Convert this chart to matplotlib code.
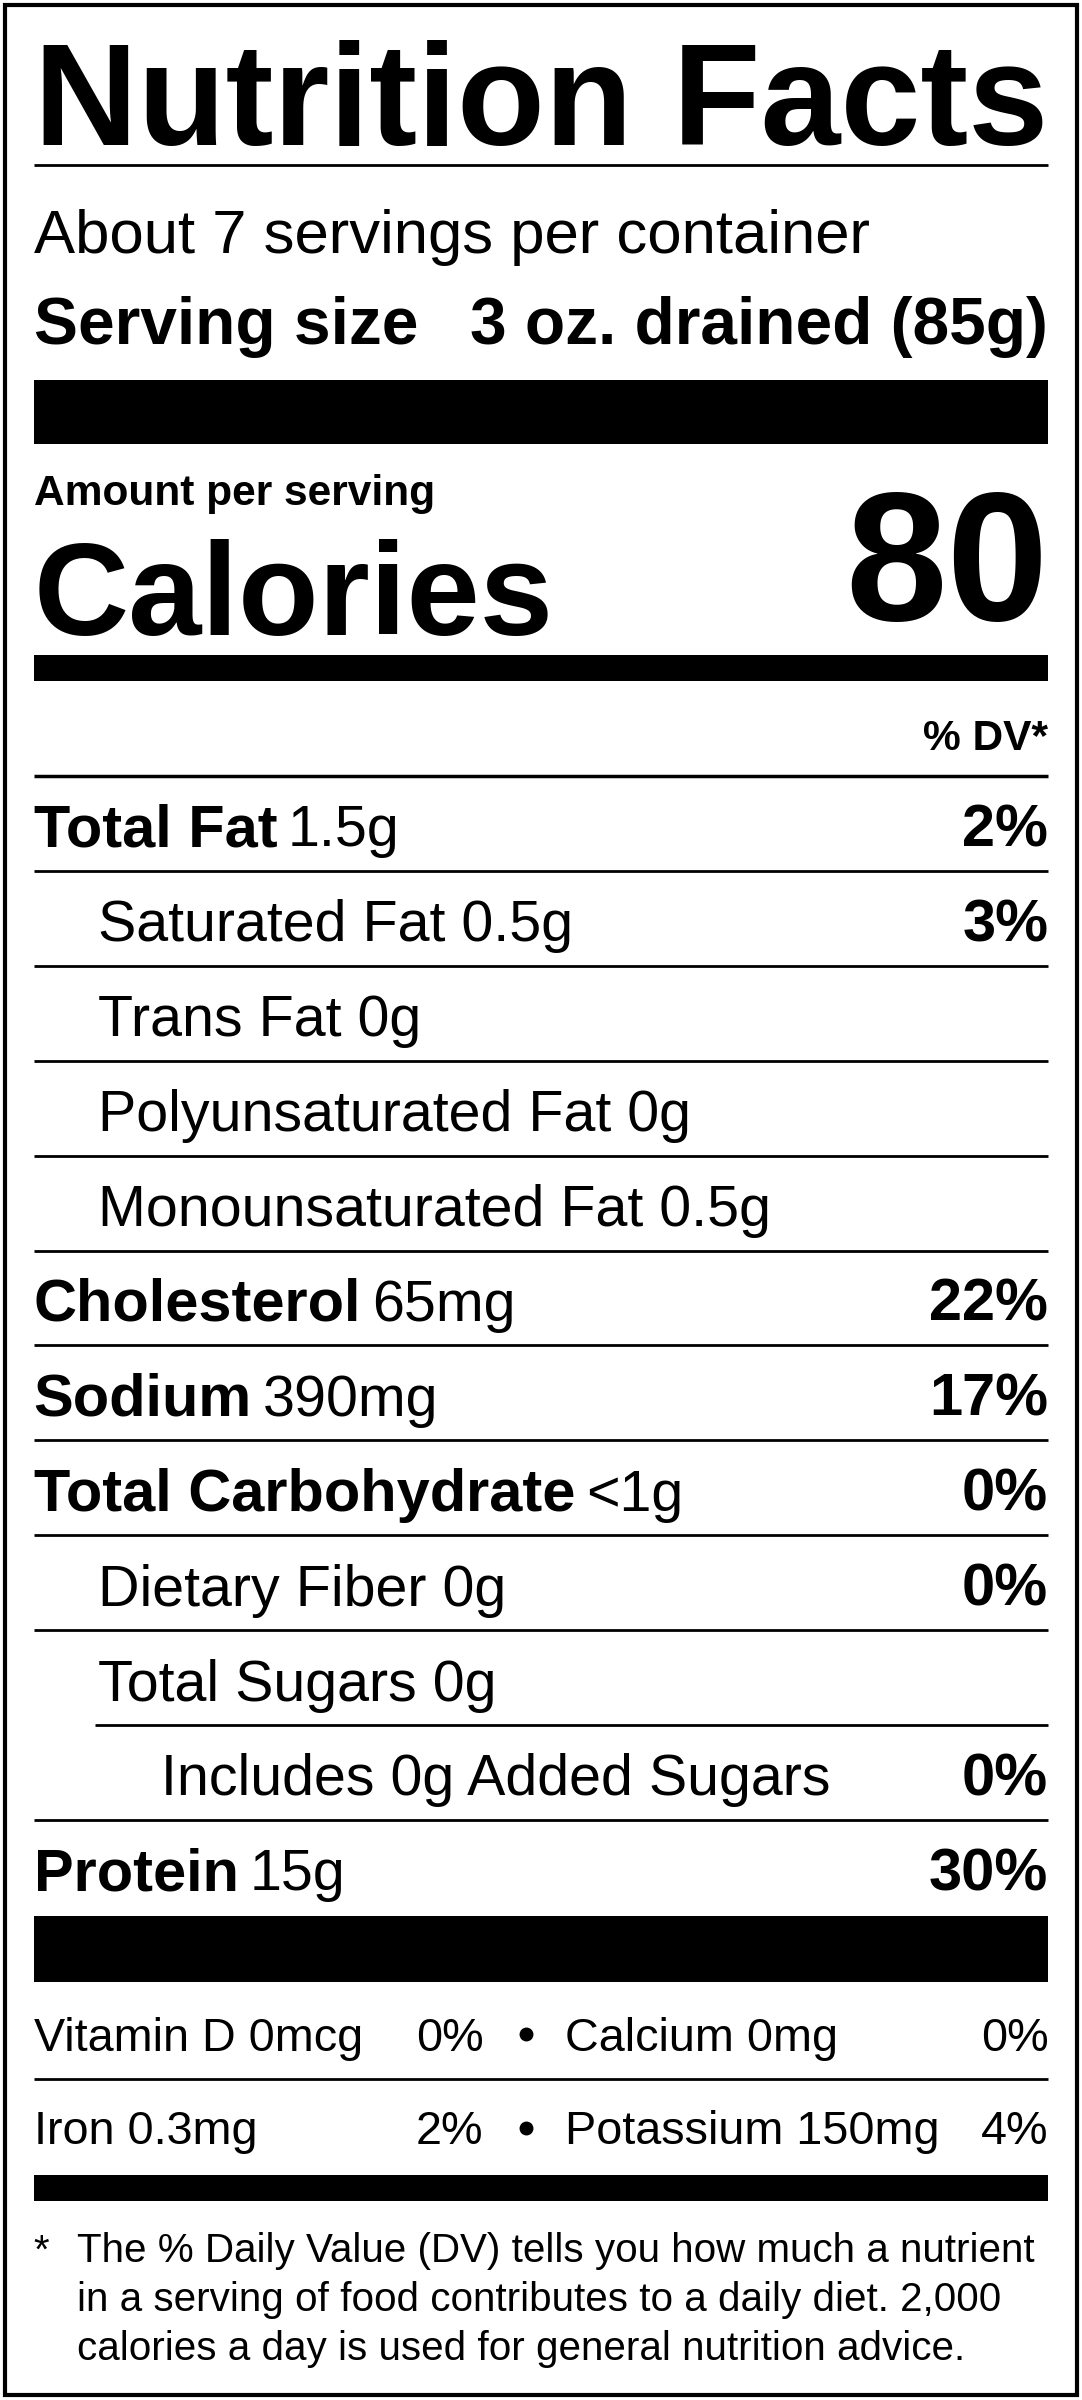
import matplotlib
matplotlib.use("Agg")
import matplotlib.pyplot as plt
from matplotlib import font_manager
from matplotlib.patches import Rectangle

names = {f.name for f in font_manager.fontManager.ttflist}
FONT = "Liberation Sans Narrow" if "Liberation Sans Narrow" in names else "Liberation Sans"
plt.rcParams["font.family"] = [FONT, "DejaVu Sans"]
BOLDF = ["Liberation Sans", "DejaVu Sans"]

# nutrient rows: label, amount, %DV, bold label, indent level
labels = ["Total Fat", "Saturated Fat", "Trans Fat", "Polyunsaturated Fat",
          "Monounsaturated Fat", "Cholesterol", "Sodium", "Total Carbohydrate",
          "Dietary Fiber", "Total Sugars", "Includes 0g Added Sugars", "Protein"]
amounts = ["1.5g", "0.5g", "0g", "0g", "0.5g", "65mg", "390mg", "<1g", "0g", "0g", "", "15g"]
dvs = ["2%", "3%", "", "", "", "22%", "17%", "0%", "0%", "", "0%", "30%"]
bold = [True, False, False, False, False, True, True, True, False, False, False, True]
indent = [0, 1, 1, 1, 1, 0, 0, 0, 1, 1, 2, 0]

vit_rows = [("Vitamin D 0mcg", "0%", "Calcium 0mg", "0%"),
            ("Iron 0.3mg", "2%", "Potassium 150mg", "4%")]
footnote = ["The % Daily Value (DV) tells you how much a nutrient",
            "in a serving of food contributes to a daily diet. 2,000",
            "calories a day is used for general nutrition advice."]

W, H = 707, 1568
fig = plt.figure(figsize=(10.82, 24), dpi=100)
ax = fig.add_axes([0, 0, 1, 1])
ax.set_xlim(0, W)
ax.set_ylim(H, 0)
ax.axis("off")

L, R = 22, 685
S = 1.53  # points per display pixel of cap height

def txt(x, y, s, cap, weight="normal", ha="left", **kw):
    return ax.text(x, y, s, fontsize=cap * S, fontweight=weight, ha=ha, va="baseline", **kw)

def hline(y, lw, x0=L, x1=R):
    ax.plot([x0, x1], [y, y], color="black", lw=lw, solid_capstyle="butt")

def bar(y0, y1):
    ax.add_patch(Rectangle((L, y0), R - L, y1 - y0, color="black", lw=0))

ax.add_patch(Rectangle((3, 3), W - 6, H - 6, fill=False, lw=3, ec="black"))

t = txt(L, 95, "Nutrition Facts", 75, "bold", family=BOLDF)
fig.canvas.draw()
bb = t.get_window_extent()
target = (R - L) / W * fig.bbox.width
t.set_fontsize(t.get_fontsize() * target / bb.width)

hline(108, 2)
txt(L, 165, "About 7 servings per container", 29)
txt(L, 225, "Serving size", 31, "bold")
txt(R, 225, "3 oz. drained (85g)", 31, "bold", ha="right")
bar(248, 290)
txt(L, 330, "Amount per serving", 20, "bold", family=BOLDF)
txt(L, 415, "Calories", 62, "bold", family=BOLDF)
txt(R, 405, "80", 86, "bold", family=BOLDF, ha="right")
bar(428, 445)
txt(R, 490, "% DV*", 20, "bold", family=BOLDF, ha="right")
hline(507, 2.5)

row_h = 62
xind = [L, 64, 105]
for i, lab in enumerate(labels):
    top = 507 + i * row_h
    base = top + 46
    x = xind[indent[i]]
    if bold[i]:
        t = txt(x, base, lab, 28, "bold", family=BOLDF)
        fig.canvas.draw()
        bb = t.get_window_extent().transformed(ax.transData.inverted())
        if amounts[i]:
            txt(bb.x1 + 7, base, amounts[i], 27)
    else:
        txt(x, base, (lab + " " + amounts[i]).strip(), 27)
    if dvs[i]:
        txt(R, base, dvs[i], 28, "bold", family=BOLDF, ha="right")
    if i < len(labels) - 1:
        x0 = 62 if labels[i] == "Total Sugars" else L
        hline(top + row_h, 2, x0=x0)

bar(1252, 1295)
for j, (n1, p1, n2, p2) in enumerate(vit_rows):
    base = 1340 + j * 61
    txt(L, base, n1, 22)
    txt(316, base, p1, 22, ha="right")
    ax.plot(344, base - 11, "o", color="black", ms=9)
    txt(369, base, n2, 22)
    txt(R, base, p2, 22, ha="right")
hline(1358, 2)
bar(1421, 1438)

txt(L, 1478, "*", 19)
for k, line in enumerate(footnote):
    txt(50, 1478 + k * 32, line, 19)

fig.savefig("out.png", dpi=100)
